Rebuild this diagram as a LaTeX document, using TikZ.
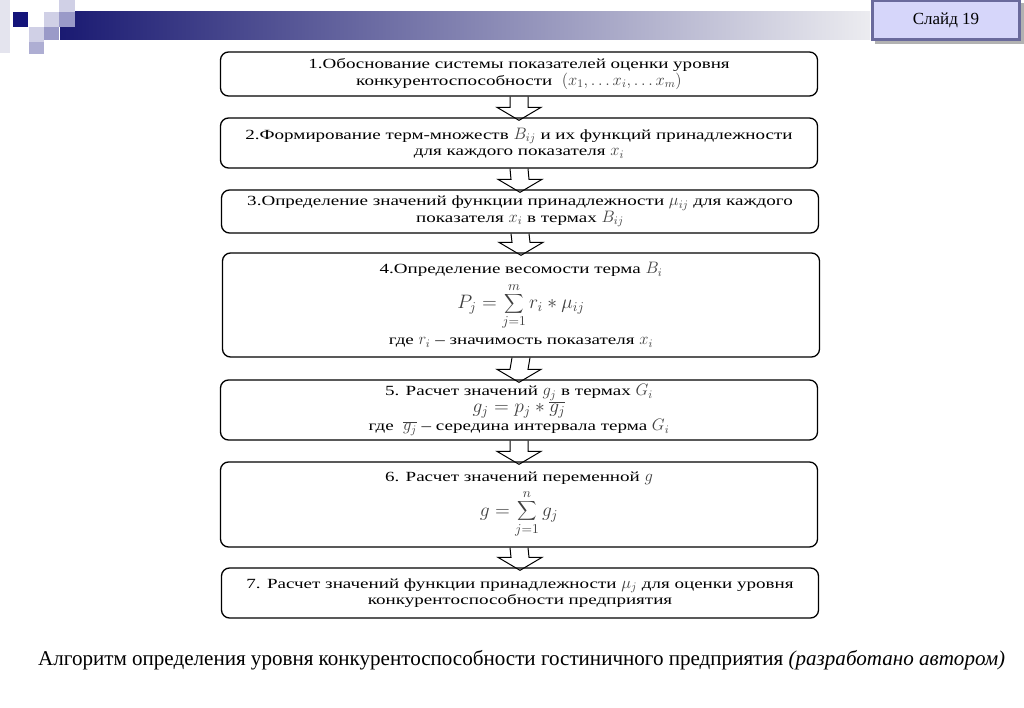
\documentclass[tikz,border=0pt]{standalone}
\usepackage{fontspec}
\usepackage{graphicx}
\setmainfont{Liberation Serif}
\newfontfamily\boxfont[FakeStretch=1.36,Ligatures=TeX]{Liberation Serif}
\usetikzlibrary{calc}
\definecolor{navy}{HTML}{1A1A72}
\definecolor{midnavy}{HTML}{8A8AAE}
\definecolor{lightend}{HTML}{ECECF0}
\definecolor{sqdark}{HTML}{14147A}
\definecolor{sqlight}{HTML}{D0D0E6}
\definecolor{sqmid}{HTML}{9A9AC8}
\definecolor{sqpale}{HTML}{E4E4EE}
\definecolor{slidefill}{HTML}{D6D6FA}
\definecolor{slidedraw}{HTML}{6A6A9C}
\definecolor{mathgray}{HTML}{404040}
\newcommand{\mth}[1]{\textcolor{mathgray}{\scalebox{1.15}{$#1$}}}
\newcommand{\dmth}[1]{\textcolor{mathgray}{\scalebox{1.35}{$\displaystyle #1$}}}
\tikzset{
  stepbox/.style={draw=black, line width=1.3pt, rounded corners=8pt, minimum width=597pt,
    align=center, inner sep=0pt, font=\boxfont\fontsize{14}{16.5}\selectfont},
  blockarrow/.style={draw=black, line width=1pt, line join=miter},
}
\begin{document}
\begin{tikzpicture}[x=1pt,y=-1pt]
\useasboundingbox (0,0) rectangle (1024,708);
\fill[white] (0,0) rectangle (1024,708);
% banner
\shade[left color=navy, middle color=midnavy, right color=lightend] (60,12) rectangle (870,40);
\fill[sqpale] (0,0) rectangle (10,53);
\fill[sqdark] (13,12) rectangle (28,27);
\fill[sqlight] (44,12) rectangle (59,27);
\fill[sqlight] (59,0) rectangle (75,12);
\fill[sqmid] (59,12) rectangle (75,27);
\fill[sqlight] (29,27) rectangle (44,42);
\fill[sqmid] (44,27) rectangle (59,40);
\fill[sqmid!80!white] (29,42) rectangle (44,54);
% slide box
\fill[gray!60] (875,3) rectangle (1024,44);
\node[draw=slidedraw, line width=2.5pt, fill=slidefill, minimum width=147pt, minimum height=39pt,
  font=\fontsize{17}{20}\selectfont] (slide) at (946,20) {Слайд 19};
% steps
\node[stepbox, minimum height=44pt] (s1) at (519,74)
 {1.Обоснование системы показателей оценки уровня\\
  конкурентоспособности\ \ \mth{(x_1,\dots x_i,\dots x_m)}};
\node[stepbox, minimum height=50pt] (s2) at (519,143)
 {2.Формирование терм-множеств \mth{B_{ij}} и их функций принадлежности\\
  для каждого показателя \mth{x_i}};
\node[stepbox, minimum height=43pt] (s3) at (520,211.5)
 {3.Определение значений функции принадлежности \mth{\mu_{ij}} для каждого\\
  показателя \mth{x_i} в термах \mth{B_{ij}}};
\node[stepbox, minimum height=104pt] (s4) at (521,305)
 {4.Определение весомости терма \mth{B_i}\\[5pt]
  \dmth{P_j=\sum_{j=1}^{m} r_i * \mu_{ij}}\\[7pt]
  где \mth{r_i} – значимость показателя \mth{x_i}};
\node[stepbox, minimum height=60pt] (s5) at (519,410)
 {5. Расчет значений \mth{g_j} в термах \mth{G_i}\\[0pt]
  \dmth{g_j=p_j*\overline{g_j}}\\[1pt]
  где \ \mth{\overline{g_j}} – середина интервала терма \mth{G_i}};
\node[stepbox, minimum height=85pt] (s6) at (519,504.5)
 {6. Расчет значений переменной \mth{g}\\[5pt]
  \dmth{g=\sum_{j=1}^{n} g_j}};
\node[stepbox, minimum height=50pt] (s7) at (520,593)
 {7. Расчет значений функции принадлежности \mth{\mu_j} для оценки уровня\\
  конкурентоспособности предприятия};
% block arrows
\foreach \a/\b in {s1/s2,s2/s3,s3/s4,s4/s5,s5/s6,s6/s7}{
  \draw[blockarrow] ($(\a.south)+(-9,0)$) -- ($(\b.north)+(-9,-10)$) -- ($(\b.north)+(-22,-10)$)
    -- ($(\b.north)+(0,3)$) -- ($(\b.north)+(22,-10)$) -- ($(\b.north)+(9,-10)$) -- ($(\a.south)+(9,0)$);
}
% caption
\node[anchor=west, inner sep=0pt] (cap) at (38,660)
 {\resizebox{967pt}{!}{\fontsize{21}{24}\selectfont Алгоритм определения уровня конкурентоспособности гостиничного предприятия \textit{(разработано автором)}}};
\end{tikzpicture}
\end{document}
